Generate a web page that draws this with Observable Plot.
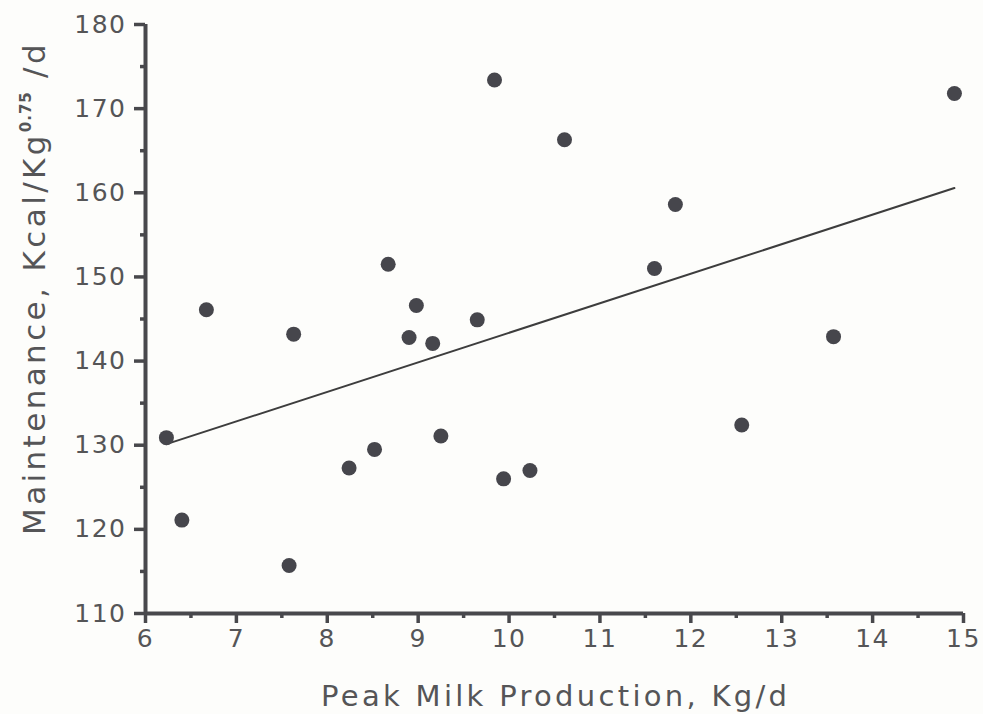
<!DOCTYPE html>
<html>
<head>
<meta charset="utf-8">
<script src="https://cdn.jsdelivr.net/npm/d3@7"></script>
<script src="https://cdn.jsdelivr.net/npm/@observablehq/plot@0.6"></script>
<style>
  html, body { margin: 0; padding: 0; background: #fdfdfb; }
</style>
</head>
<body>
<div id="chart"></div>
<script>
// Peak milk production (Kg/d)
const peakMilk = [6.67, 7.63, 8.67, 8.98, 8.90, 9.16, 9.65, 6.23, 9.25, 8.52, 8.24,
                  9.94, 10.23, 6.40, 7.58, 9.84, 14.90, 10.61, 11.83, 11.60, 13.57, 12.56];
// Maintenance (Kcal/Kg^0.75/d)
const maintenance = [146.1, 143.2, 151.5, 146.6, 142.8, 142.1, 144.9, 130.9, 131.1, 129.5, 127.3,
                     126.0, 127.0, 121.1, 115.7, 173.4, 171.8, 166.3, 158.6, 151.0, 142.9, 132.4];

const xTicks = [6, 7, 8, 9, 10, 11, 12, 13, 14, 15];
const xMinorTicks = [6.5, 7.5, 8.5, 9.5, 10.5, 11.5, 12.5, 13.5, 14.5];
const yTicks = [110, 120, 130, 140, 150, 160, 170, 180];
const yMinorTicks = [115, 125, 135, 145, 155, 165, 175];

const xLabel = "Peak Milk Production, Kg/d";

const data = peakMilk.map((x, i) => ({x, y: maintenance[i]}));

const ink = "#48484c";
const textInk = "#555557";

const chart = Plot.plot({
  width: 983,
  height: 714,
  marginLeft: 145,
  marginRight: 20,
  marginTop: 24,
  marginBottom: 101,
  x: {domain: [6, 15]},
  y: {domain: [110, 180]},
  style: {fontFamily: "DejaVu Sans", fontSize: "25px", color: textInk, background: "#fdfdfb"},
  marks: [
    Plot.axisX({ticks: xTicks, tickSize: 10, strokeWidth: 3.5, stroke: ink, tickPadding: 6,
                tickFormat: d => d, label: null, fill: textInk}),
    Plot.axisX({ticks: xMinorTicks, tickSize: 5, strokeWidth: 3.5, stroke: ink, text: null, label: null}),
    Plot.axisY({ticks: yTicks, tickSize: 11, strokeWidth: 3.5, stroke: ink, tickPadding: 8,
                tickFormat: d => d, label: null, fill: textInk}),
    Plot.axisY({ticks: yMinorTicks, tickSize: 5, strokeWidth: 3.5, stroke: ink, text: null, label: null}),
    Plot.ruleX([6], {stroke: ink, strokeWidth: 4}),
    Plot.ruleY([110], {stroke: ink, strokeWidth: 4}),
    Plot.linearRegressionY(data, {x: "x", y: "y", ci: 0, stroke: "#3d3d3d", strokeWidth: 2}),
    Plot.dot(data, {x: "x", y: "y", r: 7.5, fill: "#46464c", stroke: "none"})
  ]
});

document.getElementById("chart").appendChild(chart);

const svg = d3.select(chart);
svg.selectAll("g[aria-label='x-axis tick label'] text, g[aria-label='y-axis tick label'] text")
  .attr("letter-spacing", "1.5px");
svg.selectAll("g[aria-label='x-axis tick'], g[aria-label='y-axis tick']")
  .attr("stroke-width", 3.5);

// x axis title
svg.append("text")
  .attr("x", 554)
  .attr("y", 706)
  .attr("text-anchor", "middle")
  .attr("fill", textInk)
  .attr("font-family", "DejaVu Sans")
  .attr("font-size", 29)
  .attr("textLength", 466)
  .attr("lengthAdjust", "spacing")
  .text(xLabel);

// y axis title with superscript
const yt = svg.append("text")
  .attr("transform", "translate(45,288) rotate(-90)")
  .attr("text-anchor", "middle")
  .attr("fill", textInk)
  .attr("font-family", "DejaVu Sans")
  .attr("font-size", 31)
  .attr("letter-spacing", "3.4px");
yt.append("tspan").text("Maintenance, Kcal/Kg");
yt.append("tspan").attr("font-size", 15).attr("font-weight", "bold").attr("letter-spacing", "1px").attr("dy", -14).text("0.75");
yt.append("tspan").attr("dy", 14).text(" /d");
</script>
</body>
</html>
